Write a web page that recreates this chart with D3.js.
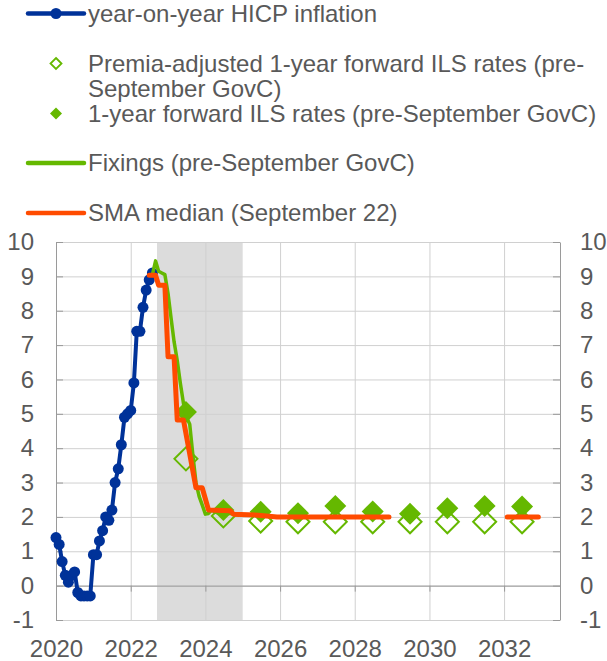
<!DOCTYPE html>
<html>
<head>
<meta charset="utf-8">
<script src="https://cdn.jsdelivr.net/npm/d3@7/dist/d3.min.js"></script>
<style>
body { margin: 0; background: #fff; }
</style>
</head>
<body>
<div class="plot-1"></div>
<script>
/* data */
var hicpMonths = ["2020-01","2020-02","2020-03","2020-04","2020-05","2020-06","2020-07","2020-08",
	"2020-09","2020-10","2020-11","2020-12","2021-01","2021-02","2021-03","2021-04","2021-05",
	"2021-06","2021-07","2021-08","2021-09","2021-10","2021-11","2021-12","2022-01","2022-02",
	"2022-03","2022-04","2022-05","2022-06","2022-07","2022-08"];
var hicpValues = [1.4, 1.2, 0.7, 0.3, 0.1, 0.3, 0.4, -0.2, -0.3, -0.3, -0.3, -0.3,
	0.9, 0.9, 1.3, 1.6, 2.0, 1.9, 2.2, 3.0, 3.4, 4.1, 4.9, 5.0,
	5.1, 5.9, 7.4, 7.4, 8.1, 8.6, 8.9, 9.1];

var fixingMonths = ["2022-08","2022-09","2022-10","2022-11","2022-12","2023-01","2023-02","2023-03",
	"2023-04","2023-05","2023-06","2023-07","2023-08","2023-09","2023-10","2023-11","2023-12",
	"2024-01","2024-02","2024-03","2024-04","2024-05","2024-06","2024-07","2024-08","2024-09",
	"2024-10","2024-11","2024-12"];
var fixingValues = [9.05, 9.45, 9.15, 9.1, 9.05, 8.5, 7.75, 7.1, 6.55, 5.9, 5.3, 4.9, 4.7, 3.8,
	3.0, 2.6, 2.35, 2.08, 2.1, 2.2, 2.15, 2.12, 2.1, 2.1, 2.1, 2.1, 2.08, 2.06, 2.05];

// null = gap in the line
var smaMonths = ["2022-07","2022-09","2022-10","2022-12","2023-01","2023-03","2023-04","2023-06",
	"2023-10","2023-12","2024-02","2024-09","2024-10","2025-06","2025-12","2028-12",
	"2030-06","2032-02","2032-12"];
var smaValues = [9.03, 9.03, 8.74, 8.74, 6.66, 6.66, 4.82, 4.82, 2.85, 2.85, 2.2, 2.18, 2.08,
	2.05, 2.0, 2.0, null, 2.0, 2.0];

var ilsDates = ["2023-06-25","2024-06-25","2025-06-25","2026-06-25","2027-06-25",
	"2028-06-25","2029-06-25","2030-06-25","2031-06-25","2032-06-25"];
var ilsValues = [5.05, 2.2, 2.15, 2.11, 2.32, 2.16, 2.09, 2.25, 2.32, 2.3];
var premiaValues = [3.69, 2.03, 1.88, 1.86, 1.86, 1.86, 1.86, 1.86, 1.86, 1.86];

var shadeFrom = "2022-09-15", shadeTo = "2024-12-31";
var yTicks = [-1, 0, 1, 2, 3, 4, 5, 6, 7, 8, 9, 10];
var xTickYears = [2020, 2022, 2024, 2026, 2028, 2030, 2032];

var legendItems = [
	{ kind: "hicp", lines: ["year-on-year HICP inflation"] },
	{ kind: "premia", lines: ["Premia-adjusted 1-year forward ILS rates (pre-", "September GovC)"] },
	{ kind: "ils", lines: ["1-year forward ILS rates (pre-September GovC)"] },
	{ kind: "fix", lines: ["Fixings (pre-September GovC)"] },
	{ kind: "sma", lines: ["SMA median (September 22)"] }
];

/* look */
var BLUE = "#003299", GREEN = "#65b800", ORANGE = "#ff4b00";
var TEXT = "#595959", AXIS = "#9a9a9a", GRID = "#d0d0d0", SHADE = "#dcdcdc";
var FONT = "'Liberation Sans', Arial, sans-serif";
var svgDims = { width: 607, height: 661 };
var plot = { left: 56, right: 560, top: 242, bottom: 620 };

var parseM = d3.timeParse("%Y-%m");
var parseD = d3.timeParse("%Y-%m-%d");
// plain hyphen for negatives, like the original
var fmtY = function( d ){ return String( d ); };

function zip( dates, vals, parser ){
	return dates.map(function( d, i ){ return { date: parser( d ), v: vals[ i ] }; });
}
var hicp = zip( hicpMonths, hicpValues, parseM );
var fixings = zip( fixingMonths, fixingValues, parseM );
var sma = zip( smaMonths, smaValues, parseM );
var ils = zip( ilsDates, ilsValues, parseD );
var premia = zip( ilsDates, premiaValues, parseD );

var svg = d3.select( ".plot-1" ).append( "svg" )
	.attr( "width", svgDims.width )
	.attr( "height", svgDims.height )
	.style( "font-family", FONT );

var x = d3.scaleTime()
	.domain( [ new Date( 2020, 0, 1 ), new Date( 2033, 6, 1 ) ] )
	.range( [ plot.left, plot.right ] );
var y = d3.scaleLinear()
	.domain( [ -1, 10 ] )
	.range( [ plot.bottom, plot.top ] );

// shaded period
svg.append( "rect" )
	.attr( "x", x( parseD( shadeFrom ) ) )
	.attr( "y", plot.top )
	.attr( "width", x( parseD( shadeTo ) ) - x( parseD( shadeFrom ) ) )
	.attr( "height", plot.bottom - plot.top )
	.attr( "fill", SHADE );

// gridlines
var gridY = svg.append( "g" )
	.attr( "transform", "translate(" + plot.left + ",0)" )
	.call( d3.axisLeft( y ).tickValues( yTicks ).tickSize( -(plot.right - plot.left) ).tickFormat( "" ) );
var gridX = svg.append( "g" )
	.attr( "transform", "translate(0," + plot.bottom + ")" )
	.call( d3.axisBottom( x ).tickValues( xTickYears.slice( 1 ).map( function( yr ){ return new Date( yr, 0, 1 ); } ) )
		.tickSize( -(plot.bottom - plot.top) ).tickFormat( "" ) );
[ gridY, gridX ].forEach(function( g ){
	g.select( ".domain" ).remove();
	g.selectAll( "line" ).attr( "stroke", GRID );
});

// axes: inward ticks on both sides, labels outside
function styleAxis( g ){
	g.selectAll( "line" ).attr( "stroke", AXIS );
	g.select( ".domain" ).attr( "stroke", AXIS );
	g.selectAll( "text" ).attr( "fill", TEXT ).style( "font-size", "24px" ).style( "font-family", FONT );
}
svg.append( "g" ).attr( "transform", "translate(" + plot.left + ",0)" )
	.call( d3.axisRight( y ).tickValues( yTicks ).tickSize( 7 ).tickSizeOuter( 0 ).tickFormat( "" ) )
	.call( styleAxis );
svg.append( "g" ).attr( "transform", "translate(" + plot.left + ",0)" )
	.call( d3.axisLeft( y ).tickValues( yTicks ).tickSize( 0 ).tickPadding( 22 ).tickFormat( fmtY ) )
	.call( styleAxis ).select( ".domain" ).remove();
svg.append( "g" ).attr( "transform", "translate(" + plot.right + ",0)" )
	.call( d3.axisLeft( y ).tickValues( yTicks ).tickSize( 7 ).tickSizeOuter( 0 ).tickFormat( "" ) )
	.call( styleAxis );
svg.append( "g" ).attr( "transform", "translate(" + plot.right + ",0)" )
	.call( d3.axisRight( y ).tickValues( yTicks ).tickSize( 0 ).tickPadding( 20 ).tickFormat( fmtY ) )
	.call( styleAxis ).select( ".domain" ).remove();

// x axis sits on zero
svg.append( "g" ).attr( "transform", "translate(0," + y( 0 ) + ")" )
	.call( d3.axisBottom( x ).tickValues( xTickYears.slice( 1 ).map( function( yr ){ return new Date( yr, 0, 1 ); } ) )
		.tickSize( 6 ).tickSizeOuter( 0 ).tickFormat( "" ) )
	.call( styleAxis );
svg.append( "g" ).attr( "transform", "translate(0," + plot.bottom + ")" )
	.call( d3.axisBottom( x ).tickValues( xTickYears.map( function( yr ){ return new Date( yr, 0, 1 ); } ) )
		.tickSize( 0 ).tickPadding( 20 ).tickFormat( d3.timeFormat( "%Y" ) ) )
	.call( styleAxis ).select( ".domain" ).remove();

// diamonds
function diamond( r ){
	return "M0," + (-r) + "L" + r + ",0L0," + r + "L" + (-r) + ",0Z";
}
svg.append( "g" ).selectAll( "path" ).data( premia ).enter().append( "path" )
	.attr( "d", diamond( 11.5 ) )
	.attr( "transform", function( d ){ return "translate(" + x( d.date ) + "," + y( d.v ) + ")"; } )
	.attr( "fill", "none" ).attr( "stroke", GREEN ).attr( "stroke-width", 2 );
svg.append( "g" ).selectAll( "path" ).data( ils ).enter().append( "path" )
	.attr( "d", diamond( 11 ) )
	.attr( "transform", function( d ){ return "translate(" + x( d.date ) + "," + y( d.v ) + ")"; } )
	.attr( "fill", GREEN );

// lines
var line = d3.line()
	.defined(function( d ){ return d.v !== null; })
	.x(function( d ){ return x( d.date ); })
	.y(function( d ){ return y( d.v ); });

svg.append( "path" ).datum( hicp ).attr( "d", line )
	.attr( "fill", "none" ).attr( "stroke", BLUE ).attr( "stroke-width", 4 ).attr( "stroke-linejoin", "round" );
svg.append( "g" ).selectAll( "circle" ).data( hicp ).enter().append( "circle" )
	.attr( "cx", function( d ){ return x( d.date ); } )
	.attr( "cy", function( d ){ return y( d.v ); } )
	.attr( "r", 5.5 ).attr( "fill", BLUE );

svg.append( "path" ).datum( fixings ).attr( "d", line )
	.attr( "fill", "none" ).attr( "stroke", GREEN ).attr( "stroke-width", 3.5 ).attr( "stroke-linejoin", "round" );
svg.append( "path" ).datum( sma ).attr( "d", line )
	.attr( "fill", "none" ).attr( "stroke", ORANGE ).attr( "stroke-width", 5 )
	.attr( "stroke-linejoin", "round" ).attr( "stroke-linecap", "round" );

// legend
var legendRows = [ 13.5, 63.5, 113.5, 163, 213 ];
var lineH = 25.5;
var leg = svg.append( "g" );
legendItems.forEach(function( item, i ){
	var cy = legendRows[ i ];
	var g = leg.append( "g" );
	if( item.kind === "hicp" ){
		g.append( "line" ).attr( "x1", 28 ).attr( "x2", 84 ).attr( "y1", cy ).attr( "y2", cy )
			.attr( "stroke", BLUE ).attr( "stroke-width", 4.5 ).attr( "stroke-linecap", "round" );
		g.append( "circle" ).attr( "cx", 56 ).attr( "cy", cy ).attr( "r", 5.5 ).attr( "fill", BLUE );
	}
	else if( item.kind === "premia" ){
		g.append( "path" ).attr( "d", diamond( 5.5 ) ).attr( "transform", "translate(56," + cy + ")" )
			.attr( "fill", "none" ).attr( "stroke", GREEN ).attr( "stroke-width", 1.8 );
	}
	else if( item.kind === "ils" ){
		g.append( "path" ).attr( "d", diamond( 6 ) ).attr( "transform", "translate(56," + cy + ")" )
			.attr( "fill", GREEN );
	}
	else{
		g.append( "line" ).attr( "x1", 28 ).attr( "x2", 84 ).attr( "y1", cy ).attr( "y2", cy )
			.attr( "stroke", item.kind === "fix" ? GREEN : ORANGE ).attr( "stroke-width", 4.5 )
			.attr( "stroke-linecap", "round" );
	}
	item.lines.forEach(function( t, j ){
		g.append( "text" ).attr( "x", 88 ).attr( "y", cy + 8 + j * lineH )
			.attr( "fill", TEXT ).style( "font-size", "24px" ).text( t );
	});
});
</script>
</body>
</html>
